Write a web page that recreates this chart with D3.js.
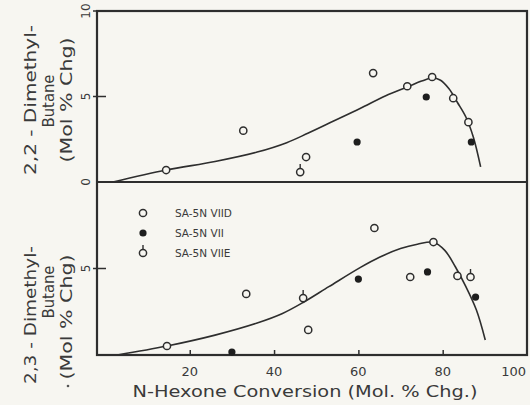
<!DOCTYPE html>
<html><head><meta charset="utf-8">
<script src="https://cdn.jsdelivr.net/npm/d3@7"></script>
<style>
html,body{margin:0;padding:0;background:#f7f6f1;}
svg{display:block;}
text{font-family:"DejaVu Sans",sans-serif;fill:#3a3a3a;}
</style></head><body>
<div id="chart"></div>
<script>
// ---- data ----
const xTicks = [20, 40, 60, 80, 100];
const seriesNames = ["SA-5N VIID", "SA-5N VII", "SA-5N VIIE"];
// Top panel: 2,2-Dimethylbutane
const topVIID = [[14.4,0.7],[32.7,3.0],[47.6,1.46],[63.5,6.37],[71.6,5.6],[77.5,6.14],[82.5,4.9],[86.1,3.5]];
const topVII  = [[59.7,2.34],[76.1,4.97],[86.8,2.34]];
const topVIIE = [[46.2,0.58]];
const topCurve = [[1.8,0],[14.4,0.7],[26,1.2],[36,1.75],[43,2.3],[48,2.85],[54,3.55],[60.4,4.3],[66.5,5.05],[71.6,5.55],[75,5.9],[77.5,6.08],[79.5,5.95],[81.5,5.45],[83.5,4.65],[85.5,3.8],[87.3,2.6],[89,0.88]];
// Bottom panel: 2,3-Dimethylbutane
const botVIID = [[14.6,0.52],[33.4,3.53],[48.1,1.45],[63.8,7.34],[72.3,4.51],[77.8,6.53],[83.5,4.57]];
const botVII  = [[30.0,0.17],[60.0,4.39],[76.4,4.8],[87.8,3.35]];
const botVIIE = [[46.9,3.29],[86.6,4.51]];
const botCurve = [[2.8,0],[14.6,0.52],[26,1.15],[36,1.85],[42,2.4],[47,3.05],[53,3.95],[60.4,5.05],[65,5.65],[70,6.15],[74,6.4],[77.8,6.52],[80.5,6.05],[83,5.1],[85.5,3.95],[88,2.6],[90.1,0.87]];

const W = 530, H = 405, ink = "#2e2e2e";
const svg = d3.select("#chart").append("svg").attr("width", W).attr("height", H);

const x = d3.scaleLinear().domain([-2, 100]).range([97, 527]);
const yTop = d3.scaleLinear().domain([0, 10]).range([182, 11]);
const yBot = d3.scaleLinear().domain([0, 10]).range([355, 182]);

// frame
svg.append("rect").attr("x", x(-2)).attr("y", yTop(10)).attr("width", x(100)-x(-2)).attr("height", yBot(0)-yTop(10))
  .attr("fill", "none").attr("stroke", ink).attr("stroke-width", 2.2);
svg.append("line").attr("x1", x(-2)).attr("x2", x(100)).attr("y1", yTop(0)).attr("y2", yTop(0))
  .attr("stroke", ink).attr("stroke-width", 2.2);

// x axis (inward ticks)
const xAxis = d3.axisBottom(x).tickValues(xTicks.filter(d => d < 100)).tickSize(-5).tickFormat("");
const gx = svg.append("g").attr("transform", `translate(0,${yBot(0)})`).call(xAxis);
gx.select(".domain").remove();
gx.selectAll("line").attr("stroke", ink).attr("stroke-width", 1.5);
svg.selectAll(".xlab").data(xTicks).enter().append("text")
  .attr("x", d => d === 100 ? x(d) - 1 : x(d)).attr("y", 376)
  .attr("text-anchor", d => d === 100 ? "end" : "middle")
  .attr("font-size", 13).text(d => d);

// y ticks (crossing)
function yTick(yv, label, scale) {
  svg.append("line").attr("x1", 93).attr("x2", 106).attr("y1", scale(yv)).attr("y2", scale(yv))
    .attr("stroke", ink).attr("stroke-width", 1.5);
  if (label !== null) {
    svg.append("text").attr("transform", `translate(90,${scale(yv)}) rotate(-90)`)
      .attr("text-anchor", "middle").attr("font-size", 12).text(label);
  }
}
yTick(10, "10", yTop);
yTick(5, "5", yTop);
svg.append("text").attr("transform", `translate(90,${yTop(0)}) rotate(-90)`)
  .attr("text-anchor", "middle").attr("font-size", 12).text("0");
yTick(5, "5", yBot);

// y titles
function vText(cx, cy, str, len) {
  svg.append("text").attr("transform", `translate(${cx},${cy}) rotate(-90)`)
    .attr("text-anchor", "middle").attr("font-size", 15)
    .attr("textLength", len).attr("lengthAdjust", "spacingAndGlyphs").text(str);
}
vText(36, 100, "2,2 - Dimethyl-", 150);
vText(54, 101, "Butane", 53);
vText(72, 100, "(Mol % Chg)", 125);
vText(36, 315, "2,3 - Dimethyl-", 138);
vText(54, 292, "Butane", 53);
vText(72, 317, "(Mol % Chg)", 125);
svg.append("circle").attr("cx", 68).attr("cy", 386).attr("r", 1.3).attr("fill", "#555");

// x title
svg.append("text").attr("x", 305).attr("y", 397).attr("text-anchor", "middle")
  .attr("font-size", 16).attr("textLength", 345).attr("lengthAdjust", "spacingAndGlyphs")
  .text("N-Hexone Conversion (Mol. % Chg.)");

// curves
const lineTop = d3.line().x(d => x(d[0])).y(d => yTop(d[1])).curve(d3.curveCatmullRom.alpha(0.5));
const lineBot = d3.line().x(d => x(d[0])).y(d => yBot(d[1])).curve(d3.curveCatmullRom.alpha(0.5));
svg.append("path").attr("d", lineTop(topCurve)).attr("fill", "none").attr("stroke", ink).attr("stroke-width", 1.6);
svg.append("path").attr("d", lineBot(botCurve)).attr("fill", "none").attr("stroke", ink).attr("stroke-width", 1.6);

// markers
function openPts(data, ys) {
  svg.append("g").selectAll("circle").data(data).enter().append("circle")
    .attr("cx", d => x(d[0])).attr("cy", d => ys(d[1])).attr("r", 3.6)
    .attr("fill", "#f7f6f1").attr("stroke", ink).attr("stroke-width", 1.5);
}
function filledPts(data, ys) {
  svg.append("g").selectAll("circle").data(data).enter().append("circle")
    .attr("cx", d => x(d[0])).attr("cy", d => ys(d[1])).attr("r", 3.6).attr("fill", "#1e1e1e");
}
function stemPts(data, ys) {
  const g = svg.append("g");
  g.selectAll("line").data(data).enter().append("line")
    .attr("x1", d => x(d[0])).attr("x2", d => x(d[0]))
    .attr("y1", d => ys(d[1]) - 8).attr("y2", d => ys(d[1]) - 3)
    .attr("stroke", ink).attr("stroke-width", 1.4);
  g.selectAll("circle").data(data).enter().append("circle")
    .attr("cx", d => x(d[0])).attr("cy", d => ys(d[1])).attr("r", 3.6)
    .attr("fill", "#f7f6f1").attr("stroke", ink).attr("stroke-width", 1.5);
}
openPts(topVIID, yTop); filledPts(topVII, yTop); stemPts(topVIIE, yTop);
openPts(botVIID, yBot); filledPts(botVII, yBot); stemPts(botVIIE, yBot);

// legend
const legY = [213, 233, 253];
const lg = svg.append("g");
lg.append("circle").attr("cx", 143).attr("cy", legY[0]).attr("r", 3.6).attr("fill", "#f7f6f1").attr("stroke", ink).attr("stroke-width", 1.5);
lg.append("circle").attr("cx", 143).attr("cy", legY[1]).attr("r", 3.6).attr("fill", "#1e1e1e");
lg.append("line").attr("x1", 143).attr("x2", 143).attr("y1", legY[2]-8).attr("y2", legY[2]-3).attr("stroke", ink).attr("stroke-width", 1.4);
lg.append("circle").attr("cx", 143).attr("cy", legY[2]).attr("r", 3.6).attr("fill", "#f7f6f1").attr("stroke", ink).attr("stroke-width", 1.5);
lg.selectAll("text").data(seriesNames).enter().append("text")
  .attr("x", 175).attr("y", (d, i) => legY[i] + 4).attr("font-size", 10.5).text(d => d);
</script>
</body></html>
